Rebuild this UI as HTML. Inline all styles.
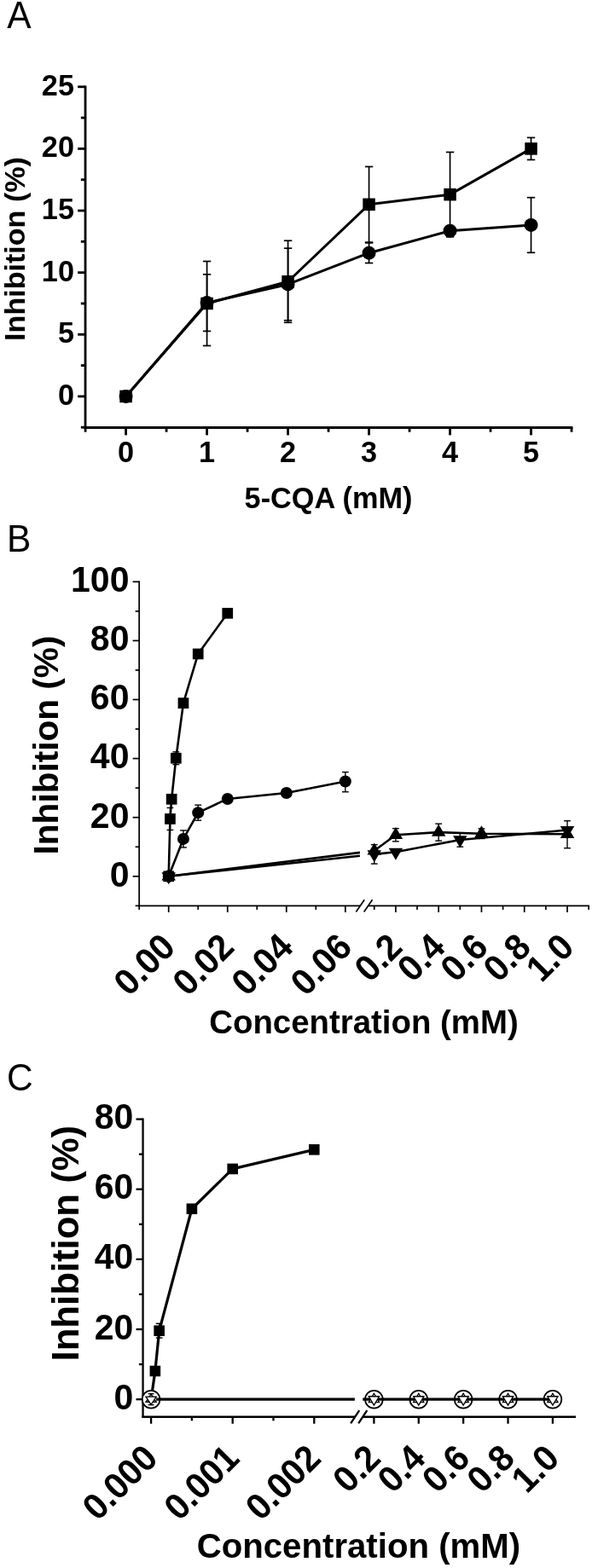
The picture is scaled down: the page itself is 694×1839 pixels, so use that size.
<!DOCTYPE html>
<html><head><meta charset="utf-8"><title>Figure</title>
<style>html,body{margin:0;padding:0;background:#fff}svg{display:block}text{font-family:"Liberation Sans",Arial,Helvetica,sans-serif;fill:#000}</style>
</head><body>
<svg width="694" height="1839" viewBox="0 0 694 1839">
<rect width="694" height="1839" fill="#fff"/>
<text x="8.20" y="32.70" font-size="42.5" text-anchor="start" transform="translate(8.20 32.70) rotate(0) scale(1 1.045) translate(-8.20 -32.70)">A</text>
<text x="8.00" y="647.00" font-size="42.5" text-anchor="start" transform="translate(8.00 647.00) rotate(0) scale(1 1.045) translate(-8.00 -647.00)">B</text>
<text x="8.10" y="1278.80" font-size="42.5" text-anchor="start" transform="translate(8.10 1278.80) rotate(0) scale(1 1.045) translate(-8.10 -1278.80)">C</text>
<line x1="100.05" y1="100.40" x2="100.05" y2="502.90" stroke="#000" stroke-width="2.8" stroke-linecap="butt"/>
<line x1="98.65" y1="501.50" x2="671.44" y2="501.50" stroke="#000" stroke-width="2.8" stroke-linecap="butt"/>
<line x1="91.15" y1="464.90" x2="100.05" y2="464.90" stroke="#000" stroke-width="2.8" stroke-linecap="butt"/>
<text x="87.05" y="474.90" font-size="34.3" font-weight="700" text-anchor="end" transform="translate(87.05 474.90) rotate(0) scale(1 1.045) translate(-87.05 -474.90)">0</text>
<line x1="91.15" y1="392.28" x2="100.05" y2="392.28" stroke="#000" stroke-width="2.8" stroke-linecap="butt"/>
<text x="87.05" y="402.28" font-size="34.3" font-weight="700" text-anchor="end" transform="translate(87.05 402.28) rotate(0) scale(1 1.045) translate(-87.05 -402.28)">5</text>
<line x1="91.15" y1="319.66" x2="100.05" y2="319.66" stroke="#000" stroke-width="2.8" stroke-linecap="butt"/>
<text x="87.05" y="329.66" font-size="34.3" font-weight="700" text-anchor="end" transform="translate(87.05 329.66) rotate(0) scale(1 1.045) translate(-87.05 -329.66)">10</text>
<line x1="91.15" y1="247.04" x2="100.05" y2="247.04" stroke="#000" stroke-width="2.8" stroke-linecap="butt"/>
<text x="87.05" y="257.04" font-size="34.3" font-weight="700" text-anchor="end" transform="translate(87.05 257.04) rotate(0) scale(1 1.045) translate(-87.05 -257.04)">15</text>
<line x1="91.15" y1="174.42" x2="100.05" y2="174.42" stroke="#000" stroke-width="2.8" stroke-linecap="butt"/>
<text x="87.05" y="184.42" font-size="34.3" font-weight="700" text-anchor="end" transform="translate(87.05 184.42) rotate(0) scale(1 1.045) translate(-87.05 -184.42)">20</text>
<line x1="91.15" y1="101.80" x2="100.05" y2="101.80" stroke="#000" stroke-width="2.8" stroke-linecap="butt"/>
<text x="87.05" y="111.80" font-size="34.3" font-weight="700" text-anchor="end" transform="translate(87.05 111.80) rotate(0) scale(1 1.045) translate(-87.05 -111.80)">25</text>
<line x1="94.85" y1="501.21" x2="100.05" y2="501.21" stroke="#000" stroke-width="2.8" stroke-linecap="butt"/>
<line x1="94.85" y1="428.59" x2="100.05" y2="428.59" stroke="#000" stroke-width="2.8" stroke-linecap="butt"/>
<line x1="94.85" y1="355.97" x2="100.05" y2="355.97" stroke="#000" stroke-width="2.8" stroke-linecap="butt"/>
<line x1="94.85" y1="283.35" x2="100.05" y2="283.35" stroke="#000" stroke-width="2.8" stroke-linecap="butt"/>
<line x1="94.85" y1="210.73" x2="100.05" y2="210.73" stroke="#000" stroke-width="2.8" stroke-linecap="butt"/>
<line x1="94.85" y1="138.11" x2="100.05" y2="138.11" stroke="#000" stroke-width="2.8" stroke-linecap="butt"/>
<line x1="147.60" y1="501.50" x2="147.60" y2="510.40" stroke="#000" stroke-width="2.8" stroke-linecap="butt"/>
<text x="147.60" y="541.60" font-size="34.3" font-weight="700" text-anchor="middle" transform="translate(147.60 541.60) rotate(0) scale(1 1.045) translate(-147.60 -541.60)">0</text>
<line x1="242.59" y1="501.50" x2="242.59" y2="510.40" stroke="#000" stroke-width="2.8" stroke-linecap="butt"/>
<text x="242.59" y="541.60" font-size="34.3" font-weight="700" text-anchor="middle" transform="translate(242.59 541.60) rotate(0) scale(1 1.045) translate(-242.59 -541.60)">1</text>
<line x1="337.58" y1="501.50" x2="337.58" y2="510.40" stroke="#000" stroke-width="2.8" stroke-linecap="butt"/>
<text x="337.58" y="541.60" font-size="34.3" font-weight="700" text-anchor="middle" transform="translate(337.58 541.60) rotate(0) scale(1 1.045) translate(-337.58 -541.60)">2</text>
<line x1="432.57" y1="501.50" x2="432.57" y2="510.40" stroke="#000" stroke-width="2.8" stroke-linecap="butt"/>
<text x="432.57" y="541.60" font-size="34.3" font-weight="700" text-anchor="middle" transform="translate(432.57 541.60) rotate(0) scale(1 1.045) translate(-432.57 -541.60)">3</text>
<line x1="527.56" y1="501.50" x2="527.56" y2="510.40" stroke="#000" stroke-width="2.8" stroke-linecap="butt"/>
<text x="527.56" y="541.60" font-size="34.3" font-weight="700" text-anchor="middle" transform="translate(527.56 541.60) rotate(0) scale(1 1.045) translate(-527.56 -541.60)">4</text>
<line x1="622.55" y1="501.50" x2="622.55" y2="510.40" stroke="#000" stroke-width="2.8" stroke-linecap="butt"/>
<text x="622.55" y="541.60" font-size="34.3" font-weight="700" text-anchor="middle" transform="translate(622.55 541.60) rotate(0) scale(1 1.045) translate(-622.55 -541.60)">5</text>
<line x1="100.10" y1="501.50" x2="100.10" y2="506.70" stroke="#000" stroke-width="2.8" stroke-linecap="butt"/>
<line x1="195.09" y1="501.50" x2="195.09" y2="506.70" stroke="#000" stroke-width="2.8" stroke-linecap="butt"/>
<line x1="290.08" y1="501.50" x2="290.08" y2="506.70" stroke="#000" stroke-width="2.8" stroke-linecap="butt"/>
<line x1="385.07" y1="501.50" x2="385.07" y2="506.70" stroke="#000" stroke-width="2.8" stroke-linecap="butt"/>
<line x1="480.06" y1="501.50" x2="480.06" y2="506.70" stroke="#000" stroke-width="2.8" stroke-linecap="butt"/>
<line x1="575.05" y1="501.50" x2="575.05" y2="506.70" stroke="#000" stroke-width="2.8" stroke-linecap="butt"/>
<line x1="670.04" y1="501.50" x2="670.04" y2="506.70" stroke="#000" stroke-width="2.8" stroke-linecap="butt"/>
<text x="28.80" y="292.00" font-size="34.1" font-weight="700" text-anchor="middle" transform="translate(28.80 292.00) rotate(-90) scale(1 1) translate(-28.80 -292.00)">Inhibition (%)</text>
<text x="385.00" y="595.60" font-size="34.3" font-weight="700" text-anchor="middle" transform="translate(385.00 595.60) rotate(0) scale(1 1) translate(-385.00 -595.60)">5-CQA (mM)</text>
<line x1="147.60" y1="464.90" x2="147.60" y2="464.90" stroke="#000" stroke-width="1.7" stroke-linecap="butt"/>
<line x1="142.90" y1="464.90" x2="152.30" y2="464.90" stroke="#000" stroke-width="1.7" stroke-linecap="butt"/>
<line x1="142.90" y1="464.90" x2="152.30" y2="464.90" stroke="#000" stroke-width="1.7" stroke-linecap="butt"/>
<line x1="242.59" y1="306.47" x2="242.59" y2="405.47" stroke="#000" stroke-width="1.7" stroke-linecap="butt"/>
<line x1="237.89" y1="306.47" x2="247.29" y2="306.47" stroke="#000" stroke-width="1.7" stroke-linecap="butt"/>
<line x1="237.89" y1="405.47" x2="247.29" y2="405.47" stroke="#000" stroke-width="1.7" stroke-linecap="butt"/>
<line x1="337.58" y1="282.26" x2="337.58" y2="378.26" stroke="#000" stroke-width="1.7" stroke-linecap="butt"/>
<line x1="332.88" y1="282.26" x2="342.28" y2="282.26" stroke="#000" stroke-width="1.7" stroke-linecap="butt"/>
<line x1="332.88" y1="378.26" x2="342.28" y2="378.26" stroke="#000" stroke-width="1.7" stroke-linecap="butt"/>
<line x1="432.57" y1="195.48" x2="432.57" y2="284.08" stroke="#000" stroke-width="1.7" stroke-linecap="butt"/>
<line x1="427.87" y1="195.48" x2="437.27" y2="195.48" stroke="#000" stroke-width="1.7" stroke-linecap="butt"/>
<line x1="427.87" y1="284.08" x2="437.27" y2="284.08" stroke="#000" stroke-width="1.7" stroke-linecap="butt"/>
<line x1="527.56" y1="178.46" x2="527.56" y2="277.86" stroke="#000" stroke-width="1.7" stroke-linecap="butt"/>
<line x1="522.86" y1="178.46" x2="532.26" y2="178.46" stroke="#000" stroke-width="1.7" stroke-linecap="butt"/>
<line x1="522.86" y1="277.86" x2="532.26" y2="277.86" stroke="#000" stroke-width="1.7" stroke-linecap="butt"/>
<line x1="622.55" y1="161.42" x2="622.55" y2="187.42" stroke="#000" stroke-width="1.7" stroke-linecap="butt"/>
<line x1="617.85" y1="161.42" x2="627.25" y2="161.42" stroke="#000" stroke-width="1.7" stroke-linecap="butt"/>
<line x1="617.85" y1="187.42" x2="627.25" y2="187.42" stroke="#000" stroke-width="1.7" stroke-linecap="butt"/>
<line x1="147.60" y1="464.90" x2="147.60" y2="464.90" stroke="#000" stroke-width="1.7" stroke-linecap="butt"/>
<line x1="142.90" y1="464.90" x2="152.30" y2="464.90" stroke="#000" stroke-width="1.7" stroke-linecap="butt"/>
<line x1="142.90" y1="464.90" x2="152.30" y2="464.90" stroke="#000" stroke-width="1.7" stroke-linecap="butt"/>
<line x1="242.59" y1="321.80" x2="242.59" y2="388.40" stroke="#000" stroke-width="1.7" stroke-linecap="butt"/>
<line x1="237.89" y1="321.80" x2="247.29" y2="321.80" stroke="#000" stroke-width="1.7" stroke-linecap="butt"/>
<line x1="237.89" y1="388.40" x2="247.29" y2="388.40" stroke="#000" stroke-width="1.7" stroke-linecap="butt"/>
<line x1="337.58" y1="291.16" x2="337.58" y2="375.76" stroke="#000" stroke-width="1.7" stroke-linecap="butt"/>
<line x1="332.88" y1="291.16" x2="342.28" y2="291.16" stroke="#000" stroke-width="1.7" stroke-linecap="butt"/>
<line x1="332.88" y1="375.76" x2="342.28" y2="375.76" stroke="#000" stroke-width="1.7" stroke-linecap="butt"/>
<line x1="432.57" y1="284.91" x2="432.57" y2="308.51" stroke="#000" stroke-width="1.7" stroke-linecap="butt"/>
<line x1="427.87" y1="284.91" x2="437.27" y2="284.91" stroke="#000" stroke-width="1.7" stroke-linecap="butt"/>
<line x1="427.87" y1="308.51" x2="437.27" y2="308.51" stroke="#000" stroke-width="1.7" stroke-linecap="butt"/>
<line x1="527.56" y1="266.71" x2="527.56" y2="274.71" stroke="#000" stroke-width="1.7" stroke-linecap="butt"/>
<line x1="522.86" y1="266.71" x2="532.26" y2="266.71" stroke="#000" stroke-width="1.7" stroke-linecap="butt"/>
<line x1="522.86" y1="274.71" x2="532.26" y2="274.71" stroke="#000" stroke-width="1.7" stroke-linecap="butt"/>
<line x1="622.55" y1="231.69" x2="622.55" y2="296.29" stroke="#000" stroke-width="1.7" stroke-linecap="butt"/>
<line x1="617.85" y1="231.69" x2="627.25" y2="231.69" stroke="#000" stroke-width="1.7" stroke-linecap="butt"/>
<line x1="617.85" y1="296.29" x2="627.25" y2="296.29" stroke="#000" stroke-width="1.7" stroke-linecap="butt"/>
<polyline points="147.60,464.90 242.59,355.97 337.58,330.26 432.57,239.78 527.56,228.16 622.55,174.42" fill="none" stroke="#000" stroke-width="3" stroke-linejoin="round"/>
<polyline points="147.60,464.90 242.59,355.10 337.58,333.46 432.57,296.71 527.56,270.71 622.55,263.89" fill="none" stroke="#000" stroke-width="3" stroke-linejoin="round"/>
<rect x="140.35" y="457.65" width="14.5" height="14.5" fill="#000"/>
<rect x="235.34" y="348.72" width="14.5" height="14.5" fill="#000"/>
<rect x="330.33" y="323.01" width="14.5" height="14.5" fill="#000"/>
<rect x="425.32" y="232.53" width="14.5" height="14.5" fill="#000"/>
<rect x="520.31" y="220.91" width="14.5" height="14.5" fill="#000"/>
<rect x="615.30" y="167.17" width="14.5" height="14.5" fill="#000"/>
<circle cx="147.60" cy="464.90" r="8.00" fill="#000"/>
<circle cx="242.59" cy="355.10" r="8.00" fill="#000"/>
<circle cx="337.58" cy="333.46" r="8.00" fill="#000"/>
<circle cx="432.57" cy="296.71" r="8.00" fill="#000"/>
<circle cx="527.56" cy="270.71" r="8.00" fill="#000"/>
<circle cx="622.55" cy="263.89" r="8.00" fill="#000"/>
<line x1="163.15" y1="681.45" x2="163.15" y2="1063.30" stroke="#000" stroke-width="1.7" stroke-linecap="butt"/>
<line x1="155.65" y1="1027.80" x2="163.15" y2="1027.80" stroke="#000" stroke-width="1.7" stroke-linecap="butt"/>
<text x="151.45" y="1039.70" font-size="41" font-weight="700" text-anchor="end" transform="translate(151.45 1039.70) rotate(0) scale(1 1.045) translate(-151.45 -1039.70)">0</text>
<line x1="155.65" y1="958.70" x2="163.15" y2="958.70" stroke="#000" stroke-width="1.7" stroke-linecap="butt"/>
<text x="151.45" y="970.60" font-size="41" font-weight="700" text-anchor="end" transform="translate(151.45 970.60) rotate(0) scale(1 1.045) translate(-151.45 -970.60)">20</text>
<line x1="155.65" y1="889.60" x2="163.15" y2="889.60" stroke="#000" stroke-width="1.7" stroke-linecap="butt"/>
<text x="151.45" y="901.50" font-size="41" font-weight="700" text-anchor="end" transform="translate(151.45 901.50) rotate(0) scale(1 1.045) translate(-151.45 -901.50)">40</text>
<line x1="155.65" y1="820.50" x2="163.15" y2="820.50" stroke="#000" stroke-width="1.7" stroke-linecap="butt"/>
<text x="151.45" y="832.40" font-size="41" font-weight="700" text-anchor="end" transform="translate(151.45 832.40) rotate(0) scale(1 1.045) translate(-151.45 -832.40)">60</text>
<line x1="155.65" y1="751.40" x2="163.15" y2="751.40" stroke="#000" stroke-width="1.7" stroke-linecap="butt"/>
<text x="151.45" y="763.30" font-size="41" font-weight="700" text-anchor="end" transform="translate(151.45 763.30) rotate(0) scale(1 1.045) translate(-151.45 -763.30)">80</text>
<line x1="155.65" y1="682.30" x2="163.15" y2="682.30" stroke="#000" stroke-width="1.7" stroke-linecap="butt"/>
<text x="151.45" y="694.20" font-size="41" font-weight="700" text-anchor="end" transform="translate(151.45 694.20) rotate(0) scale(1 1.045) translate(-151.45 -694.20)">100</text>
<line x1="158.65" y1="1062.35" x2="163.15" y2="1062.35" stroke="#000" stroke-width="1.7" stroke-linecap="butt"/>
<line x1="158.65" y1="993.25" x2="163.15" y2="993.25" stroke="#000" stroke-width="1.7" stroke-linecap="butt"/>
<line x1="158.65" y1="924.15" x2="163.15" y2="924.15" stroke="#000" stroke-width="1.7" stroke-linecap="butt"/>
<line x1="158.65" y1="855.05" x2="163.15" y2="855.05" stroke="#000" stroke-width="1.7" stroke-linecap="butt"/>
<line x1="158.65" y1="785.95" x2="163.15" y2="785.95" stroke="#000" stroke-width="1.7" stroke-linecap="butt"/>
<line x1="158.65" y1="716.85" x2="163.15" y2="716.85" stroke="#000" stroke-width="1.7" stroke-linecap="butt"/>
<line x1="162.30" y1="1062.45" x2="422.30" y2="1062.45" stroke="#000" stroke-width="1.7" stroke-linecap="butt"/>
<line x1="431.60" y1="1062.45" x2="691.01" y2="1062.45" stroke="#000" stroke-width="1.7" stroke-linecap="butt"/>
<line x1="417.40" y1="1069.55" x2="427.20" y2="1055.35" stroke="#000" stroke-width="1.7" stroke-linecap="butt"/>
<line x1="426.70" y1="1069.55" x2="436.50" y2="1055.35" stroke="#000" stroke-width="1.7" stroke-linecap="butt"/>
<line x1="197.70" y1="1062.45" x2="197.70" y2="1069.95" stroke="#000" stroke-width="1.7" stroke-linecap="butt"/>
<text x="207.70" y="1113.25" font-size="41" font-weight="700" text-anchor="end" transform="translate(207.70 1113.25) rotate(-45) scale(1 1.045) translate(-207.70 -1113.25)">0.00</text>
<line x1="266.75" y1="1062.45" x2="266.75" y2="1069.95" stroke="#000" stroke-width="1.7" stroke-linecap="butt"/>
<text x="276.75" y="1113.25" font-size="41" font-weight="700" text-anchor="end" transform="translate(276.75 1113.25) rotate(-45) scale(1 1.045) translate(-276.75 -1113.25)">0.02</text>
<line x1="335.79" y1="1062.45" x2="335.79" y2="1069.95" stroke="#000" stroke-width="1.7" stroke-linecap="butt"/>
<text x="345.79" y="1113.25" font-size="41" font-weight="700" text-anchor="end" transform="translate(345.79 1113.25) rotate(-45) scale(1 1.045) translate(-345.79 -1113.25)">0.04</text>
<line x1="404.84" y1="1062.45" x2="404.84" y2="1069.95" stroke="#000" stroke-width="1.7" stroke-linecap="butt"/>
<text x="414.84" y="1113.25" font-size="41" font-weight="700" text-anchor="end" transform="translate(414.84 1113.25) rotate(-45) scale(1 1.045) translate(-414.84 -1113.25)">0.06</text>
<line x1="163.18" y1="1062.45" x2="163.18" y2="1066.95" stroke="#000" stroke-width="1.7" stroke-linecap="butt"/>
<line x1="232.22" y1="1062.45" x2="232.22" y2="1066.95" stroke="#000" stroke-width="1.7" stroke-linecap="butt"/>
<line x1="301.27" y1="1062.45" x2="301.27" y2="1066.95" stroke="#000" stroke-width="1.7" stroke-linecap="butt"/>
<line x1="370.31" y1="1062.45" x2="370.31" y2="1066.95" stroke="#000" stroke-width="1.7" stroke-linecap="butt"/>
<line x1="463.90" y1="1062.45" x2="463.90" y2="1069.95" stroke="#000" stroke-width="1.7" stroke-linecap="butt"/>
<text x="473.90" y="1113.25" font-size="41" font-weight="700" text-anchor="end" transform="translate(473.90 1113.25) rotate(-45) scale(1 1.045) translate(-473.90 -1113.25)">0.2</text>
<line x1="514.18" y1="1062.45" x2="514.18" y2="1069.95" stroke="#000" stroke-width="1.7" stroke-linecap="butt"/>
<text x="524.18" y="1113.25" font-size="41" font-weight="700" text-anchor="end" transform="translate(524.18 1113.25) rotate(-45) scale(1 1.045) translate(-524.18 -1113.25)">0.4</text>
<line x1="564.46" y1="1062.45" x2="564.46" y2="1069.95" stroke="#000" stroke-width="1.7" stroke-linecap="butt"/>
<text x="574.46" y="1113.25" font-size="41" font-weight="700" text-anchor="end" transform="translate(574.46 1113.25) rotate(-45) scale(1 1.045) translate(-574.46 -1113.25)">0.6</text>
<line x1="614.74" y1="1062.45" x2="614.74" y2="1069.95" stroke="#000" stroke-width="1.7" stroke-linecap="butt"/>
<text x="624.74" y="1113.25" font-size="41" font-weight="700" text-anchor="end" transform="translate(624.74 1113.25) rotate(-45) scale(1 1.045) translate(-624.74 -1113.25)">0.8</text>
<line x1="665.02" y1="1062.45" x2="665.02" y2="1069.95" stroke="#000" stroke-width="1.7" stroke-linecap="butt"/>
<text x="675.02" y="1113.25" font-size="41" font-weight="700" text-anchor="end" transform="translate(675.02 1113.25) rotate(-45) scale(1 1.045) translate(-675.02 -1113.25)">1.0</text>
<line x1="438.76" y1="1062.45" x2="438.76" y2="1066.95" stroke="#000" stroke-width="1.7" stroke-linecap="butt"/>
<line x1="489.04" y1="1062.45" x2="489.04" y2="1066.95" stroke="#000" stroke-width="1.7" stroke-linecap="butt"/>
<line x1="539.32" y1="1062.45" x2="539.32" y2="1066.95" stroke="#000" stroke-width="1.7" stroke-linecap="butt"/>
<line x1="589.60" y1="1062.45" x2="589.60" y2="1066.95" stroke="#000" stroke-width="1.7" stroke-linecap="butt"/>
<line x1="639.88" y1="1062.45" x2="639.88" y2="1066.95" stroke="#000" stroke-width="1.7" stroke-linecap="butt"/>
<line x1="690.16" y1="1062.45" x2="690.16" y2="1066.95" stroke="#000" stroke-width="1.7" stroke-linecap="butt"/>
<text x="68.20" y="874.00" font-size="40.6" font-weight="700" text-anchor="middle" transform="translate(68.20 874.00) rotate(-90) scale(1 1) translate(-68.20 -874.00)">Inhibition (%)</text>
<text x="426.50" y="1212.40" font-size="38.4" font-weight="700" text-anchor="middle" transform="translate(426.50 1212.40) rotate(0) scale(1 1) translate(-426.50 -1212.40)">Concentration (mM)</text>
<line x1="199.43" y1="947.43" x2="199.43" y2="973.43" stroke="#000" stroke-width="1.4" stroke-linecap="butt"/>
<line x1="195.53" y1="947.43" x2="203.33" y2="947.43" stroke="#000" stroke-width="1.4" stroke-linecap="butt"/>
<line x1="195.53" y1="973.43" x2="203.33" y2="973.43" stroke="#000" stroke-width="1.4" stroke-linecap="butt"/>
<line x1="206.33" y1="881.85" x2="206.33" y2="896.65" stroke="#000" stroke-width="1.4" stroke-linecap="butt"/>
<line x1="202.43" y1="881.85" x2="210.23" y2="881.85" stroke="#000" stroke-width="1.4" stroke-linecap="butt"/>
<line x1="202.43" y1="896.65" x2="210.23" y2="896.65" stroke="#000" stroke-width="1.4" stroke-linecap="butt"/>
<line x1="214.96" y1="973.92" x2="214.96" y2="993.92" stroke="#000" stroke-width="1.4" stroke-linecap="butt"/>
<line x1="211.06" y1="973.92" x2="218.86" y2="973.92" stroke="#000" stroke-width="1.4" stroke-linecap="butt"/>
<line x1="211.06" y1="993.92" x2="218.86" y2="993.92" stroke="#000" stroke-width="1.4" stroke-linecap="butt"/>
<line x1="232.22" y1="944.17" x2="232.22" y2="962.17" stroke="#000" stroke-width="1.4" stroke-linecap="butt"/>
<line x1="228.32" y1="944.17" x2="236.12" y2="944.17" stroke="#000" stroke-width="1.4" stroke-linecap="butt"/>
<line x1="228.32" y1="962.17" x2="236.12" y2="962.17" stroke="#000" stroke-width="1.4" stroke-linecap="butt"/>
<line x1="404.84" y1="905.55" x2="404.84" y2="928.75" stroke="#000" stroke-width="1.4" stroke-linecap="butt"/>
<line x1="400.94" y1="905.55" x2="408.74" y2="905.55" stroke="#000" stroke-width="1.4" stroke-linecap="butt"/>
<line x1="400.94" y1="928.75" x2="408.74" y2="928.75" stroke="#000" stroke-width="1.4" stroke-linecap="butt"/>
<line x1="463.90" y1="971.66" x2="463.90" y2="986.86" stroke="#000" stroke-width="1.4" stroke-linecap="butt"/>
<line x1="460.00" y1="971.66" x2="467.80" y2="971.66" stroke="#000" stroke-width="1.4" stroke-linecap="butt"/>
<line x1="460.00" y1="986.86" x2="467.80" y2="986.86" stroke="#000" stroke-width="1.4" stroke-linecap="butt"/>
<line x1="514.18" y1="966.15" x2="514.18" y2="986.15" stroke="#000" stroke-width="1.4" stroke-linecap="butt"/>
<line x1="510.28" y1="966.15" x2="518.08" y2="966.15" stroke="#000" stroke-width="1.4" stroke-linecap="butt"/>
<line x1="510.28" y1="986.15" x2="518.08" y2="986.15" stroke="#000" stroke-width="1.4" stroke-linecap="butt"/>
<line x1="564.46" y1="971.90" x2="564.46" y2="983.50" stroke="#000" stroke-width="1.4" stroke-linecap="butt"/>
<line x1="560.56" y1="971.90" x2="568.36" y2="971.90" stroke="#000" stroke-width="1.4" stroke-linecap="butt"/>
<line x1="560.56" y1="983.50" x2="568.36" y2="983.50" stroke="#000" stroke-width="1.4" stroke-linecap="butt"/>
<line x1="665.02" y1="962.72" x2="665.02" y2="994.72" stroke="#000" stroke-width="1.4" stroke-linecap="butt"/>
<line x1="661.12" y1="962.72" x2="668.92" y2="962.72" stroke="#000" stroke-width="1.4" stroke-linecap="butt"/>
<line x1="661.12" y1="994.72" x2="668.92" y2="994.72" stroke="#000" stroke-width="1.4" stroke-linecap="butt"/>
<line x1="438.76" y1="990.69" x2="438.76" y2="1013.09" stroke="#000" stroke-width="1.4" stroke-linecap="butt"/>
<line x1="434.86" y1="990.69" x2="442.66" y2="990.69" stroke="#000" stroke-width="1.4" stroke-linecap="butt"/>
<line x1="434.86" y1="1013.09" x2="442.66" y2="1013.09" stroke="#000" stroke-width="1.4" stroke-linecap="butt"/>
<line x1="539.32" y1="976.76" x2="539.32" y2="993.16" stroke="#000" stroke-width="1.4" stroke-linecap="butt"/>
<line x1="535.42" y1="976.76" x2="543.22" y2="976.76" stroke="#000" stroke-width="1.4" stroke-linecap="butt"/>
<line x1="535.42" y1="993.16" x2="543.22" y2="993.16" stroke="#000" stroke-width="1.4" stroke-linecap="butt"/>
<polyline points="197.70,1027.80 199.43,960.43 201.15,937.28 206.33,889.25 214.96,824.65 232.22,766.95 266.75,719.27" fill="none" stroke="#000" stroke-width="2.6" stroke-linejoin="round"/>
<polyline points="197.70,1027.80 214.96,983.92 232.22,953.17 266.75,936.93 335.79,930.02 404.84,916.55" fill="none" stroke="#000" stroke-width="2.6" stroke-linejoin="round"/>
<line x1="197.70" y1="1027.80" x2="421.90" y2="999.84" stroke="#000" stroke-width="2.6" stroke-linecap="butt"/>
<polyline points="438.76,997.74 463.90,979.26 514.18,976.15 564.46,977.70 665.02,978.22" fill="none" stroke="#000" stroke-width="2.6" stroke-linejoin="round"/>
<line x1="197.70" y1="1027.80" x2="421.90" y2="1003.70" stroke="#000" stroke-width="2.6" stroke-linecap="butt"/>
<polyline points="438.76,1001.89 463.90,999.30 539.32,984.96 665.02,973.56" fill="none" stroke="#000" stroke-width="2.6" stroke-linejoin="round"/>
<rect x="191.35" y="1021.45" width="12.7" height="12.7" fill="#000"/>
<rect x="193.08" y="954.08" width="12.7" height="12.7" fill="#000"/>
<rect x="194.80" y="930.93" width="12.7" height="12.7" fill="#000"/>
<rect x="199.98" y="882.90" width="12.7" height="12.7" fill="#000"/>
<rect x="208.61" y="818.30" width="12.7" height="12.7" fill="#000"/>
<rect x="225.87" y="760.60" width="12.7" height="12.7" fill="#000"/>
<rect x="260.40" y="712.92" width="12.7" height="12.7" fill="#000"/>
<circle cx="197.70" cy="1027.80" r="7.00" fill="#000"/>
<circle cx="214.96" cy="983.92" r="7.00" fill="#000"/>
<circle cx="232.22" cy="953.17" r="7.00" fill="#000"/>
<circle cx="266.75" cy="936.93" r="7.00" fill="#000"/>
<circle cx="335.79" cy="930.02" r="7.00" fill="#000"/>
<circle cx="404.84" cy="916.55" r="7.00" fill="#000"/>
<polygon points="197.70,1018.47 189.45,1032.47 205.95,1032.47" fill="#000"/>
<polygon points="197.70,1037.13 189.45,1023.13 205.95,1023.13" fill="#000"/>
<polygon points="438.76,988.41 430.51,1002.41 447.01,1002.41" fill="#000"/>
<polygon points="463.90,969.92 455.65,983.92 472.15,983.92" fill="#000"/>
<polygon points="514.18,966.81 505.93,980.81 522.43,980.81" fill="#000"/>
<polygon points="564.46,968.37 556.21,982.37 572.71,982.37" fill="#000"/>
<polygon points="665.02,968.89 656.77,982.89 673.27,982.89" fill="#000"/>
<polygon points="438.76,1011.22 430.51,997.22 447.01,997.22" fill="#000"/>
<polygon points="463.90,1008.63 455.65,994.63 472.15,994.63" fill="#000"/>
<polygon points="539.32,994.29 531.07,980.29 547.57,980.29" fill="#000"/>
<polygon points="665.02,982.89 656.77,968.89 673.27,968.89" fill="#000"/>
<line x1="167.55" y1="1311.45" x2="167.55" y2="1662.90" stroke="#000" stroke-width="2.3" stroke-linecap="butt"/>
<line x1="159.55" y1="1641.20" x2="167.55" y2="1641.20" stroke="#000" stroke-width="2.3" stroke-linecap="butt"/>
<text x="156.35" y="1652.80" font-size="41" font-weight="700" text-anchor="end" transform="translate(156.35 1652.80) rotate(0) scale(1 1.045) translate(-156.35 -1652.80)">0</text>
<line x1="159.55" y1="1559.05" x2="167.55" y2="1559.05" stroke="#000" stroke-width="2.3" stroke-linecap="butt"/>
<text x="156.35" y="1570.65" font-size="41" font-weight="700" text-anchor="end" transform="translate(156.35 1570.65) rotate(0) scale(1 1.045) translate(-156.35 -1570.65)">20</text>
<line x1="159.55" y1="1476.90" x2="167.55" y2="1476.90" stroke="#000" stroke-width="2.3" stroke-linecap="butt"/>
<text x="156.35" y="1488.50" font-size="41" font-weight="700" text-anchor="end" transform="translate(156.35 1488.50) rotate(0) scale(1 1.045) translate(-156.35 -1488.50)">40</text>
<line x1="159.55" y1="1394.75" x2="167.55" y2="1394.75" stroke="#000" stroke-width="2.3" stroke-linecap="butt"/>
<text x="156.35" y="1406.35" font-size="41" font-weight="700" text-anchor="end" transform="translate(156.35 1406.35) rotate(0) scale(1 1.045) translate(-156.35 -1406.35)">60</text>
<line x1="159.55" y1="1312.60" x2="167.55" y2="1312.60" stroke="#000" stroke-width="2.3" stroke-linecap="butt"/>
<text x="156.35" y="1324.20" font-size="41" font-weight="700" text-anchor="end" transform="translate(156.35 1324.20) rotate(0) scale(1 1.045) translate(-156.35 -1324.20)">80</text>
<line x1="162.95" y1="1600.12" x2="167.55" y2="1600.12" stroke="#000" stroke-width="2.3" stroke-linecap="butt"/>
<line x1="162.95" y1="1517.98" x2="167.55" y2="1517.98" stroke="#000" stroke-width="2.3" stroke-linecap="butt"/>
<line x1="162.95" y1="1435.83" x2="167.55" y2="1435.83" stroke="#000" stroke-width="2.3" stroke-linecap="butt"/>
<line x1="162.95" y1="1353.68" x2="167.55" y2="1353.68" stroke="#000" stroke-width="2.3" stroke-linecap="butt"/>
<line x1="166.40" y1="1661.75" x2="416.20" y2="1661.75" stroke="#000" stroke-width="2.3" stroke-linecap="butt"/>
<line x1="425.25" y1="1661.75" x2="675.00" y2="1661.75" stroke="#000" stroke-width="2.3" stroke-linecap="butt"/>
<line x1="411.15" y1="1669.30" x2="421.25" y2="1654.20" stroke="#000" stroke-width="2.3" stroke-linecap="butt"/>
<line x1="420.20" y1="1669.30" x2="430.30" y2="1654.20" stroke="#000" stroke-width="2.3" stroke-linecap="butt"/>
<line x1="177.10" y1="1661.75" x2="177.10" y2="1669.75" stroke="#000" stroke-width="2.3" stroke-linecap="butt"/>
<text x="187.10" y="1712.55" font-size="41" font-weight="700" text-anchor="end" transform="translate(187.10 1712.55) rotate(-45) scale(1 1.045) translate(-187.10 -1712.55)">0.000</text>
<line x1="272.70" y1="1661.75" x2="272.70" y2="1669.75" stroke="#000" stroke-width="2.3" stroke-linecap="butt"/>
<text x="282.70" y="1712.55" font-size="41" font-weight="700" text-anchor="end" transform="translate(282.70 1712.55) rotate(-45) scale(1 1.045) translate(-282.70 -1712.55)">0.001</text>
<line x1="368.30" y1="1661.75" x2="368.30" y2="1669.75" stroke="#000" stroke-width="2.3" stroke-linecap="butt"/>
<text x="378.30" y="1712.55" font-size="41" font-weight="700" text-anchor="end" transform="translate(378.30 1712.55) rotate(-45) scale(1 1.045) translate(-378.30 -1712.55)">0.002</text>
<line x1="224.90" y1="1661.75" x2="224.90" y2="1666.35" stroke="#000" stroke-width="2.3" stroke-linecap="butt"/>
<line x1="320.50" y1="1661.75" x2="320.50" y2="1666.35" stroke="#000" stroke-width="2.3" stroke-linecap="butt"/>
<line x1="438.40" y1="1661.75" x2="438.40" y2="1669.75" stroke="#000" stroke-width="2.3" stroke-linecap="butt"/>
<text x="448.40" y="1712.55" font-size="41" font-weight="700" text-anchor="end" transform="translate(448.40 1712.55) rotate(-45) scale(1 1.045) translate(-448.40 -1712.55)">0.2</text>
<line x1="490.78" y1="1661.75" x2="490.78" y2="1669.75" stroke="#000" stroke-width="2.3" stroke-linecap="butt"/>
<text x="500.78" y="1712.55" font-size="41" font-weight="700" text-anchor="end" transform="translate(500.78 1712.55) rotate(-45) scale(1 1.045) translate(-500.78 -1712.55)">0.4</text>
<line x1="543.16" y1="1661.75" x2="543.16" y2="1669.75" stroke="#000" stroke-width="2.3" stroke-linecap="butt"/>
<text x="553.16" y="1712.55" font-size="41" font-weight="700" text-anchor="end" transform="translate(553.16 1712.55) rotate(-45) scale(1 1.045) translate(-553.16 -1712.55)">0.6</text>
<line x1="595.54" y1="1661.75" x2="595.54" y2="1669.75" stroke="#000" stroke-width="2.3" stroke-linecap="butt"/>
<text x="605.54" y="1712.55" font-size="41" font-weight="700" text-anchor="end" transform="translate(605.54 1712.55) rotate(-45) scale(1 1.045) translate(-605.54 -1712.55)">0.8</text>
<line x1="647.92" y1="1661.75" x2="647.92" y2="1669.75" stroke="#000" stroke-width="2.3" stroke-linecap="butt"/>
<text x="657.92" y="1712.55" font-size="41" font-weight="700" text-anchor="end" transform="translate(657.92 1712.55) rotate(-45) scale(1 1.045) translate(-657.92 -1712.55)">1.0</text>
<text x="92.10" y="1458.20" font-size="43.7" font-weight="700" text-anchor="middle" transform="translate(92.10 1458.20) rotate(-90) scale(1 1) translate(-92.10 -1458.20)">Inhibition (%)</text>
<text x="420.40" y="1826.90" font-size="40.2" font-weight="700" text-anchor="middle" transform="translate(420.40 1826.90) rotate(0) scale(1 1) translate(-420.40 -1826.90)">Concentration (mM)</text>
<line x1="186.66" y1="1552.29" x2="186.66" y2="1569.09" stroke="#000" stroke-width="1.4" stroke-linecap="butt"/>
<line x1="182.76" y1="1552.29" x2="190.56" y2="1552.29" stroke="#000" stroke-width="1.4" stroke-linecap="butt"/>
<line x1="182.76" y1="1569.09" x2="190.56" y2="1569.09" stroke="#000" stroke-width="1.4" stroke-linecap="butt"/>
<polyline points="177.10,1641.20 181.88,1608.01 186.66,1560.69 224.90,1417.75 272.70,1370.93 368.30,1348.34" fill="none" stroke="#000" stroke-width="3.2" stroke-linejoin="round"/>
<rect x="175.58" y="1601.71" width="12.6" height="12.6" fill="#000"/>
<rect x="180.36" y="1554.39" width="12.6" height="12.6" fill="#000"/>
<rect x="218.60" y="1411.45" width="12.6" height="12.6" fill="#000"/>
<rect x="266.40" y="1364.63" width="12.6" height="12.6" fill="#000"/>
<rect x="362.00" y="1342.04" width="12.6" height="12.6" fill="#000"/>
<circle cx="177.10" cy="1641.20" r="10.35" fill="#fff" stroke="#000" stroke-width="1.8"/>
<circle cx="438.40" cy="1641.20" r="10.35" fill="#fff" stroke="#000" stroke-width="1.8"/>
<circle cx="490.78" cy="1641.20" r="10.35" fill="#fff" stroke="#000" stroke-width="1.8"/>
<circle cx="543.16" cy="1641.20" r="10.35" fill="#fff" stroke="#000" stroke-width="1.8"/>
<circle cx="595.54" cy="1641.20" r="10.35" fill="#fff" stroke="#000" stroke-width="1.8"/>
<circle cx="647.92" cy="1641.20" r="10.35" fill="#fff" stroke="#000" stroke-width="1.8"/>
<line x1="183.10" y1="1641.20" x2="415.90" y2="1641.20" stroke="#000" stroke-width="3.2" stroke-linecap="butt"/>
<line x1="425.25" y1="1641.20" x2="647.92" y2="1641.20" stroke="#000" stroke-width="3.2" stroke-linecap="butt"/>
<polygon points="177.10,1635.07 171.00,1644.27 183.20,1644.27" fill="#fff" stroke="#000" stroke-width="1.35" stroke-linejoin="miter"/>
<line x1="173.60" y1="1634.70" x2="180.60" y2="1634.70" stroke="#000" stroke-width="1.35" stroke-linecap="butt"/>
<line x1="173.60" y1="1647.70" x2="180.60" y2="1647.70" stroke="#000" stroke-width="1.35" stroke-linecap="butt"/>
<polygon points="177.10,1647.33 171.00,1638.13 183.20,1638.13" fill="#fff" stroke="#000" stroke-width="1.35" stroke-linejoin="miter"/>
<polygon points="438.40,1634.27 432.30,1644.67 444.50,1644.67" fill="#fff" stroke="#000" stroke-width="1.35" stroke-linejoin="miter"/>
<polygon points="438.40,1648.13 432.30,1637.73 444.50,1637.73" fill="#fff" stroke="#000" stroke-width="1.35" stroke-linejoin="miter"/>
<polygon points="490.78,1634.27 484.68,1644.67 496.88,1644.67" fill="#fff" stroke="#000" stroke-width="1.35" stroke-linejoin="miter"/>
<polygon points="490.78,1648.13 484.68,1637.73 496.88,1637.73" fill="#fff" stroke="#000" stroke-width="1.35" stroke-linejoin="miter"/>
<polygon points="543.16,1634.27 537.06,1644.67 549.26,1644.67" fill="#fff" stroke="#000" stroke-width="1.35" stroke-linejoin="miter"/>
<polygon points="543.16,1648.13 537.06,1637.73 549.26,1637.73" fill="#fff" stroke="#000" stroke-width="1.35" stroke-linejoin="miter"/>
<polygon points="595.54,1634.27 589.44,1644.67 601.64,1644.67" fill="#fff" stroke="#000" stroke-width="1.35" stroke-linejoin="miter"/>
<polygon points="595.54,1648.13 589.44,1637.73 601.64,1637.73" fill="#fff" stroke="#000" stroke-width="1.35" stroke-linejoin="miter"/>
<polygon points="647.92,1634.27 641.82,1644.67 654.02,1644.67" fill="#fff" stroke="#000" stroke-width="1.35" stroke-linejoin="miter"/>
<polygon points="647.92,1648.13 641.82,1637.73 654.02,1637.73" fill="#fff" stroke="#000" stroke-width="1.35" stroke-linejoin="miter"/>
</svg>
</body></html>
